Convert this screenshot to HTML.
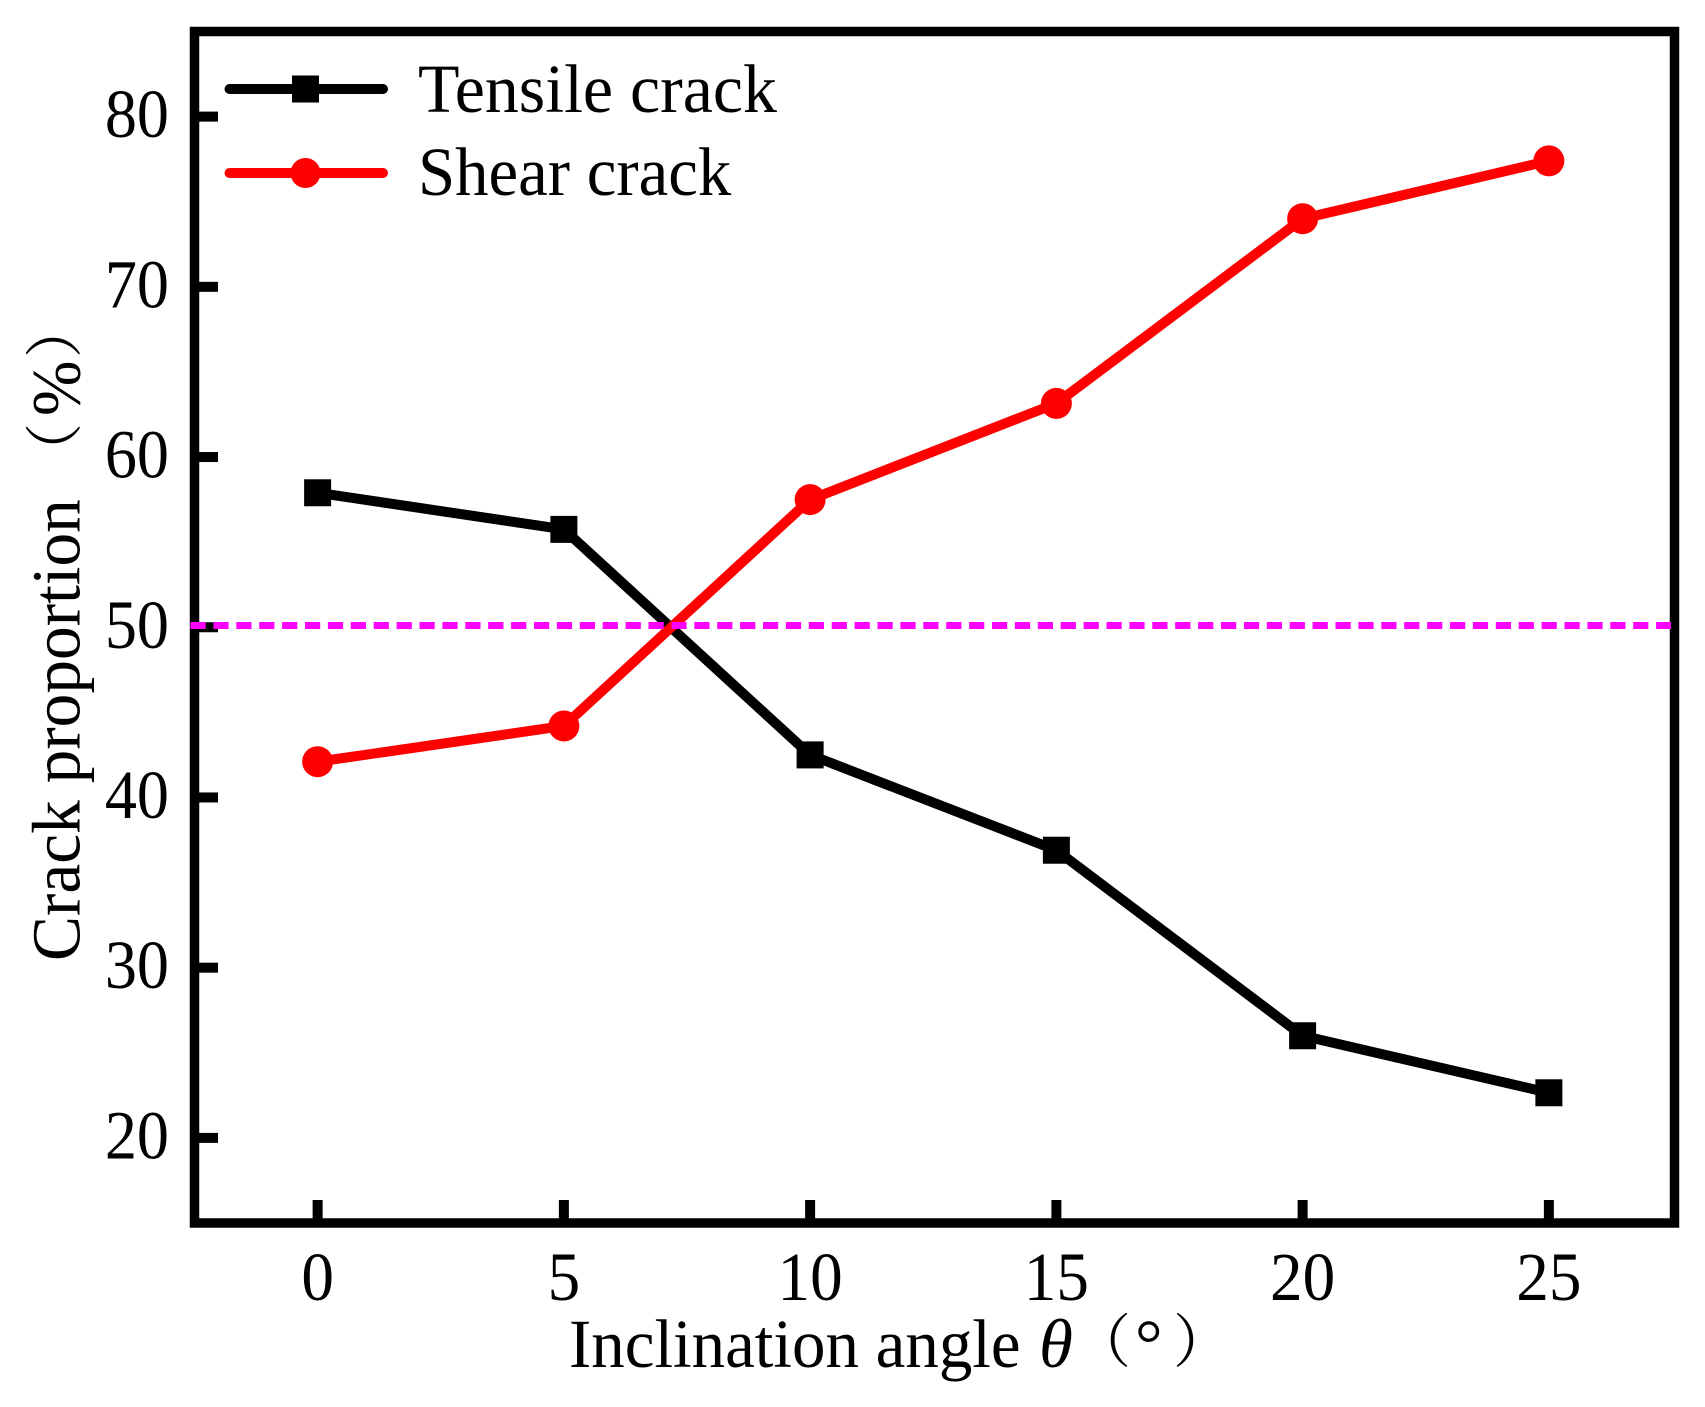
<!DOCTYPE html>
<html lang="en">
<head>
<meta charset="utf-8">
<title>Crack proportion vs inclination angle</title>
<style>
html,body{margin:0;padding:0;background:#fff;width:1705px;height:1407px;overflow:hidden}
svg{display:block}
text{font-family:"Liberation Serif","Noto Serif CJK SC",serif;font-size:69px;fill:#000}
.cjk{font-family:"Noto Serif CJK SC","Liberation Serif",serif;font-size:58px}
</style>
</head>
<body>
<svg id="chart" xmlns="http://www.w3.org/2000/svg" width="1705" height="1407" viewBox="0 0 1705 1407">
  <rect x="0" y="0" width="1705" height="1407" fill="#fff"/>
  <g id="ticks"></g>
  <g id="series"></g>
  <g id="frame-layer">
    <rect x="194.5" y="31.5" width="1480" height="1191.5" fill="none" stroke="#000" stroke-width="9.5"/>
  </g>
  <g id="reference"></g>

  <g>
    <g>
      <line x1="229.5" y1="89" x2="383" y2="89" stroke="#000" stroke-width="10" stroke-linecap="round"/>
      <rect x="292" y="75.5" width="27" height="27" fill="#000"/>
      <text transform="translate(418,112) scale(.984,1)">Tensile crack</text>
    </g>
    <g>
      <line x1="229.5" y1="173" x2="383" y2="173" stroke="#f00" stroke-width="10" stroke-linecap="round"/>
      <circle cx="305.5" cy="173" r="15" fill="#f00"/>
      <text transform="translate(418,195) scale(.968,1)">Shear crack</text>
    </g>
  </g>

  <g>
    <text transform="translate(569,1367) scale(.97,1)">Inclination angle</text>
    <text transform="translate(1039,1367)" font-style="italic">θ</text>
    <text class="cjk" transform="translate(1073,1362)">（</text>
    <text transform="translate(1135,1367)">°</text>
    <text class="cjk" transform="translate(1173,1362)">）</text>
  </g>
  <g>
    <text transform="translate(79.5,961) rotate(-90) scale(.976,1)">Crack proportion</text>
    <text class="cjk" transform="translate(75,481) rotate(-90)">（</text>
    <text transform="translate(79.5,416) rotate(-90) scale(.965,1)">%</text>
    <text class="cjk" transform="translate(75,358) rotate(-90)">）</text>
  </g>
</svg>
<script>
const xTicks = [0, 5, 10, 15, 20, 25];
const yTicks = [20, 30, 40, 50, 60, 70, 80];
const angles = [0, 5, 10, 15, 20, 25];
const tensileCrack = [57.9, 55.75, 42.5, 36.9, 26.0, 22.65];
const shearCrack = [42.1, 44.2, 57.5, 63.15, 74.0, 77.4];
const referenceLevel = [50.1];

const xMin = -2.5, xMax = 27.5, yMin = 15, yMax = 85;
const plotLeft = 194.5, plotRight = 1672, plotTop = 31.5, plotBottom = 1223;
const NS = 'http://www.w3.org/2000/svg';

function xScale(v) { return plotLeft + (v - xMin) / (xMax - xMin) * (plotRight - plotLeft); }
function yScale(v) { return plotBottom - (v - yMin) / (yMax - yMin) * (plotBottom - plotTop); }
function make(tag, attrs) {
  const el = document.createElementNS(NS, tag);
  for (const k in attrs) el.setAttribute(k, attrs[k]);
  return el;
}

const ticksLayer = document.getElementById('ticks');
xTicks.forEach(function (t) {
  const x = xScale(t);
  const tick = make('rect', { x: x - 5, y: 1200, width: 10, height: 20, fill: '#000' });
  
  
  ticksLayer.appendChild(tick);
  const label = make('text', { 'text-anchor': 'middle', transform: 'translate(' + x + ',1300) scale(.945,1)' });
  
  
  label.textContent = t;
  ticksLayer.appendChild(label);
});
yTicks.forEach(function (t) {
  const y = yScale(t);
  const tick = make('rect', { x: 197, y: y - 5, width: 21, height: 10, fill: '#000' });
  
  
  ticksLayer.appendChild(tick);
  const label = make('text', { 'text-anchor': 'end', transform: 'translate(169,' + (y + 20.5) + ') scale(.93,1)' });
  
  
  label.textContent = t;
  ticksLayer.appendChild(label);
});

function drawSegments(values, color, group) {
  const gap = 14;
  for (let i = 0; i < values.length - 1; i++) {
    const x1 = xScale(angles[i]), y1 = yScale(values[i]);
    const x2 = xScale(angles[i + 1]), y2 = yScale(values[i + 1]);
    const len = Math.hypot(x2 - x1, y2 - y1);
    const ux = (x2 - x1) / len, uy = (y2 - y1) / len;
    const seg = make('line', {
      x1: x1 + ux * gap, y1: y1 + uy * gap,
      x2: x2 - ux * gap, y2: y2 - uy * gap,
      stroke: color, 'stroke-width': 10, 'stroke-linecap': 'round'
    });
    
    
    group.appendChild(seg);
  }
}

const seriesLayer = document.getElementById('series');

const tensileGroup = make('g', {});


seriesLayer.appendChild(tensileGroup);
drawSegments(tensileCrack, '#000', tensileGroup);
tensileCrack.forEach(function (v, i) {
  const m = make('rect', { x: xScale(angles[i]) - 13.5, y: yScale(v) - 13.5, width: 27, height: 27, fill: '#000' });
  
  
  tensileGroup.appendChild(m);
});

const shearGroup = make('g', {});


seriesLayer.appendChild(shearGroup);
drawSegments(shearCrack, '#f00', shearGroup);
shearCrack.forEach(function (v, i) {
  const m = make('circle', { cx: xScale(angles[i]), cy: yScale(v), r: 15.5, fill: '#f00' });
  
  
  shearGroup.appendChild(m);
});

const refLayer = document.getElementById('reference');
referenceLevel.forEach(function (v) {
  const line = make('line', {
    x1: 190.5, x2: 1671, y1: yScale(v), y2: yScale(v),
    stroke: '#f0f', 'stroke-width': 7, 'stroke-dasharray': '15.2 7.7'
  });
  
  
  refLayer.appendChild(line);
});
</script>
</body>
</html>
